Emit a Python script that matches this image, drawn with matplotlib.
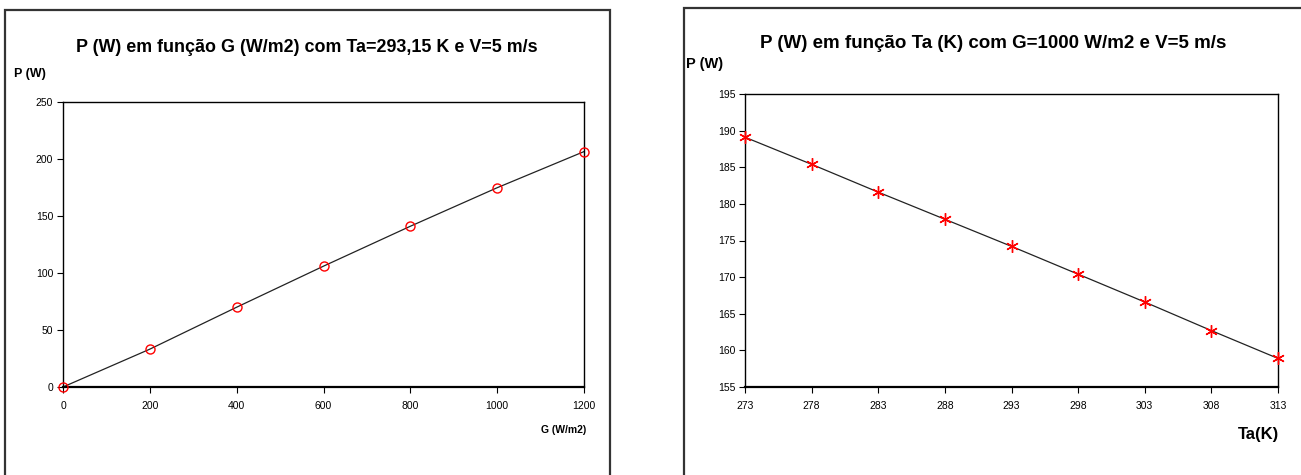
import matplotlib.pyplot as plt
from matplotlib.patches import Rectangle

plt.rcParams['font.family'] = ['Liberation Sans', 'DejaVu Sans']

# dados grafico 1: P em funcao de G
g_vals = [0, 200, 400, 600, 800, 1000, 1200]
p_g = [0, 33.2, 70.0, 106.0, 141.0, 174.8, 206.5]

# dados grafico 2: P em funcao de Ta
ta_vals = [273, 278, 283, 288, 293, 298, 303, 308, 313]
p_ta = [189.1, 185.4, 181.6, 177.9, 174.2, 170.4, 166.6, 162.7, 158.9]

W, H = 1301, 475
fig = plt.figure(figsize=(W / 100, H / 100), dpi=100)

def px(x0, y0, x1, y1):
    return [x0 / W, 1 - y1 / H, (x1 - x0) / W, (y1 - y0) / H]

# molduras
fig.patches.append(Rectangle((5 / W, -0.1), 605 / W, 1.1 - 10 / H, transform=fig.transFigure,
                             fill=False, edgecolor='#333333', lw=1.6))
fig.patches.append(Rectangle((684 / W, -0.1), 0.5, 1.1 - 8 / H, transform=fig.transFigure,
                             fill=False, edgecolor='#333333', lw=1.6))

def estilo(ax):
    for s in ax.spines.values():
        s.set_linewidth(1.0)
    ax.spines['bottom'].set_linewidth(1.6)
    ax.tick_params(direction='out', length=4, width=0.8, labelsize=7.5, pad=3)
    ax.tick_params(axis='x', pad=6)

# grafico 1
ax1 = fig.add_axes(px(63, 102, 584, 387))
ax1.plot(g_vals, p_g, color='#222222', lw=0.9, zorder=2)
ax1.plot(g_vals, p_g, ls='none', marker='o', ms=6.5, mfc='none', mec='red', mew=1.0,
         zorder=3, clip_on=False)
ax1.set_xlim(0, 1200)
ax1.set_ylim(0, 250)
ax1.set_xticks(g_vals)
ax1.set_yticks(range(0, 251, 50))
estilo(ax1)
fig.text(307 / W, 1 - 48 / H, 'P (W) em função G (W/m2) com Ta=293,15 K e V=5 m/s',
         ha='center', va='center', fontsize=12.9, fontweight='bold')
fig.text(14 / W, 1 - 74 / H, 'P (W)', ha='left', va='center', fontsize=9, fontweight='bold')
fig.text(586 / W, 1 - 430 / H, 'G (W/m2)', ha='right', va='center', fontsize=7.5,
         fontweight='bold')

# grafico 2
ax2 = fig.add_axes(px(745, 94, 1278, 387))
ax2.plot(ta_vals, p_ta, color='#222222', lw=0.9, zorder=2)
ax2.plot(ta_vals, p_ta, ls='none', marker=(6, 2, 0), ms=9, mec='red', mew=1.0,
         zorder=3, clip_on=False)
ax2.set_xlim(273, 313)
ax2.set_ylim(155, 195)
ax2.set_xticks(ta_vals)
ax2.set_yticks(range(155, 196, 5))
estilo(ax2)
fig.text(993 / W, 1 - 44 / H, 'P (W) em função Ta (K) com G=1000 W/m2 e V=5 m/s',
         ha='center', va='center', fontsize=13.5, fontweight='bold')
fig.text(686 / W, 1 - 64 / H, 'P (W)', ha='left', va='center', fontsize=10.5,
         fontweight='bold')
fig.text(1279 / W, 1 - 435 / H, 'Ta(K)', ha='right', va='center', fontsize=12,
         fontweight='bold')

fig.savefig('out.png', dpi=100)
